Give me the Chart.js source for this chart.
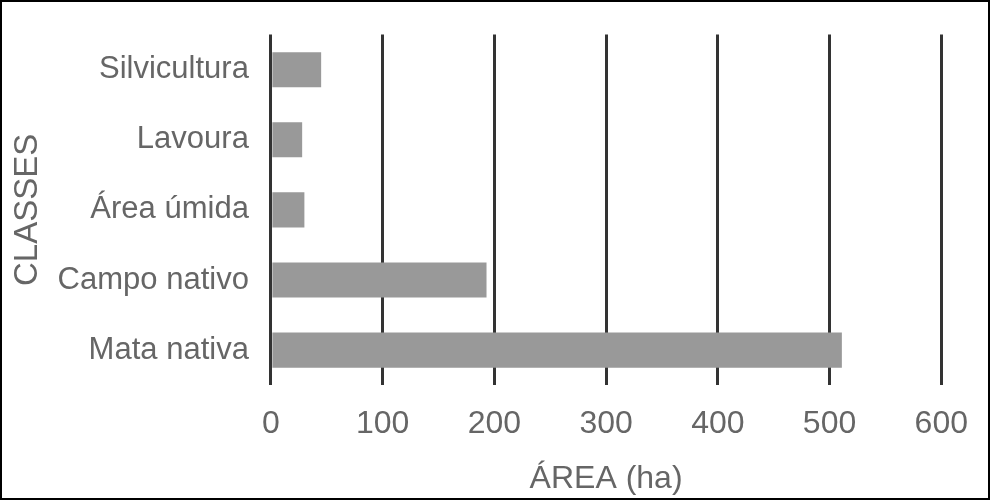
<!DOCTYPE html>
<html><head><meta charset="utf-8">
<script src="https://cdn.jsdelivr.net/npm/chart.js@4"></script>
<style>
html,body{margin:0;padding:0;background:#fff;}
#wrap{width:986px;height:496px;border:2px solid #000;position:relative;}
</style></head>
<body><div id="wrap"><canvas id="c" width="986" height="496"></canvas></div>
<script>
const categories = ['Silvicultura', 'Lavoura', 'Área úmida', 'Campo nativo', 'Mata nativa'];
const areaValues = [45, 28, 30, 193, 511];
const xTicks = [0, 100, 200, 300, 400, 500, 600];

new Chart(document.getElementById('c').getContext('2d'), {
    type: 'bar',
    data: {
        labels: categories,
        datasets: [{ data: areaValues, backgroundColor: '#999999', barPercentage: 0.5, categoryPercentage: 1 }]
    },
    options: {
        indexAxis: 'y',
        responsive: false,
        animation: false,
        layout: { padding: { top: -12, right: 34, bottom: 0, left: 0 } },
        plugins: { legend: { display: false }, tooltip: { enabled: false } },
        scales: {
            x: {
                min: 0, max: 600,
                afterBuildTicks: s => { s.ticks = xTicks.map(v => ({ value: v })); },
                grid: { color: '#333', lineWidth: 3, drawTicks: false },
                border: { display: false },
                ticks: { color: '#666', font: { family: 'Liberation Sans', size: 32 }, padding: 20 },
                title: { display: true, text: 'ÁREA (ha)', color: '#666', font: { family: 'Liberation Sans', size: 32 }, padding: { top: -4, bottom: 0 } }
            },
            y: {
                grid: { display: false },
                border: { display: false },
                ticks: { color: '#666', font: { family: 'Liberation Sans', size: 31 }, padding: 14 },
                title: { display: true, text: 'CLASSES', color: '#666', font: { family: 'Liberation Sans', size: 33 }, padding: { top: 6, bottom: -4 } }
            }
        }
    }
});
</script></body></html>
